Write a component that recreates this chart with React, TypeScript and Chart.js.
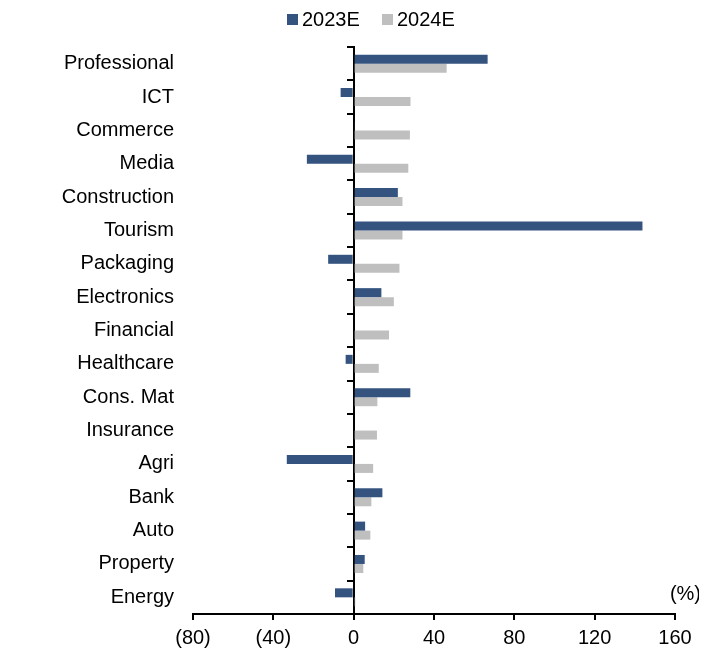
import React, { useEffect, useRef } from 'react';
import { Chart, registerables } from 'chart.js';

Chart.register(...registerables);

const categories = ['Professional', 'ICT', 'Commerce', 'Media', 'Construction', 'Tourism', 'Packaging', 'Electronics', 'Financial', 'Healthcare', 'Cons. Mat', 'Insurance', 'Agri', 'Bank', 'Auto', 'Property', 'Energy'];
const values2023E = [66.7, -6.5, 0.6, -23.3, 22.0, 143.8, -12.7, 13.8, 0, -4.0, 28.2, 0, -33.3, 14.3, 5.7, 5.5, -9.3];
const values2024E = [46.3, 28.3, 28.0, 27.2, 24.3, 24.3, 22.8, 20.0, 17.6, 12.5, 11.8, 11.6, 9.7, 8.8, 8.3, 4.8, 0.8];
const seriesNames = ['2023E', '2024E'];
const seriesColors = ['#34537F', '#BFBFBF'];
const xMin = -80;
const xMax = 160;
const xStep = 40;
const unitText = '(%)';

const FONT = '"Liberation Sans", Arial, Helvetica, sans-serif';
const FS = 20;

const unitLabel = {
  id: 'unitLabel',
  afterDraw(chart: any) {
    const { ctx, chartArea } = chart;
    ctx.save();
    ctx.font = `${FS}px ${FONT}`;
    ctx.fillStyle = '#000';
    ctx.textAlign = 'right';
    ctx.textBaseline = 'middle';
    ctx.fillText(unitText, chartArea.right + 26, chartArea.bottom - 20);
    ctx.restore();
  },
};

export default function App() {
  const ref = useRef<HTMLCanvasElement | null>(null);

  useEffect(() => {
    if (!ref.current) return;
    const chart = new Chart(ref.current, {
      type: 'bar',
      data: {
        labels: categories,
        datasets: [
          {
            label: seriesNames[0],
            data: values2023E,
            backgroundColor: seriesColors[0],
            categoryPercentage: 0.54,
            barPercentage: 1,
          },
          {
            label: seriesNames[1],
            data: values2024E,
            backgroundColor: seriesColors[1],
            categoryPercentage: 0.54,
            barPercentage: 1,
          },
        ],
      },
      options: {
        indexAxis: 'y',
        animation: false,
        responsive: true,
        maintainAspectRatio: false,
        layout: { padding: { top: 39, right: 32, left: 0, bottom: 0 } },
        plugins: {
          legend: { display: false },
          tooltip: { enabled: false },
        },
        scales: {
          x: {
            type: 'linear',
            min: xMin,
            max: xMax,
            z: 2,
            ticks: {
              stepSize: xStep,
              color: '#000',
              padding: 6,
              font: { family: FONT, size: FS },
              callback: (v: any) => (Number(v) < 0 ? `(${Math.abs(Number(v))})` : `${v}`),
            },
            grid: {
              drawOnChartArea: false,
              drawTicks: true,
              tickLength: 6,
              color: '#000',
              lineWidth: 2,
            },
            border: { display: true, color: '#000', width: 2 },
            afterFit: (scale: any) => {
              scale.height = 39;
            },
          },
          y: {
            type: 'category',
            position: 'left',
            grid: { display: false, drawTicks: false, tickLength: 0 },
            border: { display: false },
            ticks: {
              color: '#000',
              padding: 19,
              font: { family: FONT, size: FS },
            },
            afterFit: (scale: any) => {
              scale.width = 185;
            },
          },
          y2: {
            type: 'category',
            axis: 'y',
            position: { x: 0 },
            offset: true,
            z: 2,
            grid: {
              offset: true,
              drawOnChartArea: false,
              drawTicks: true,
              tickLength: 6,
              color: '#000',
              lineWidth: 2,
            },
            border: { display: true, color: '#000', width: 2 },
            ticks: { display: false },
          },
        } as any,
      },
      plugins: [unitLabel],
    });
    return () => chart.destroy();
  }, []);

  const legendItem = (i: number, left: number) => (
    <div
      key={i}
      style={{
        position: 'absolute',
        left,
        top: 0,
        height: 22,
        display: 'flex',
        alignItems: 'center',
        fontFamily: FONT,
        fontSize: FS,
        color: '#000',
        whiteSpace: 'nowrap',
      }}
    >
      <span style={{ display: 'inline-block', width: 11, height: 11, background: seriesColors[i], marginRight: 4 }} />
      <span>{seriesNames[i]}</span>
    </div>
  );

  return (
    <div
      style={{
        position: 'relative',
        marginRight: -8,
        marginBottom: -8,
        height: 645,
        borderBottom: '4px solid #203A68',
      }}
    >
      {legendItem(0, 279)}
      {legendItem(1, 374)}
      <canvas ref={ref} />
    </div>
  );
}
